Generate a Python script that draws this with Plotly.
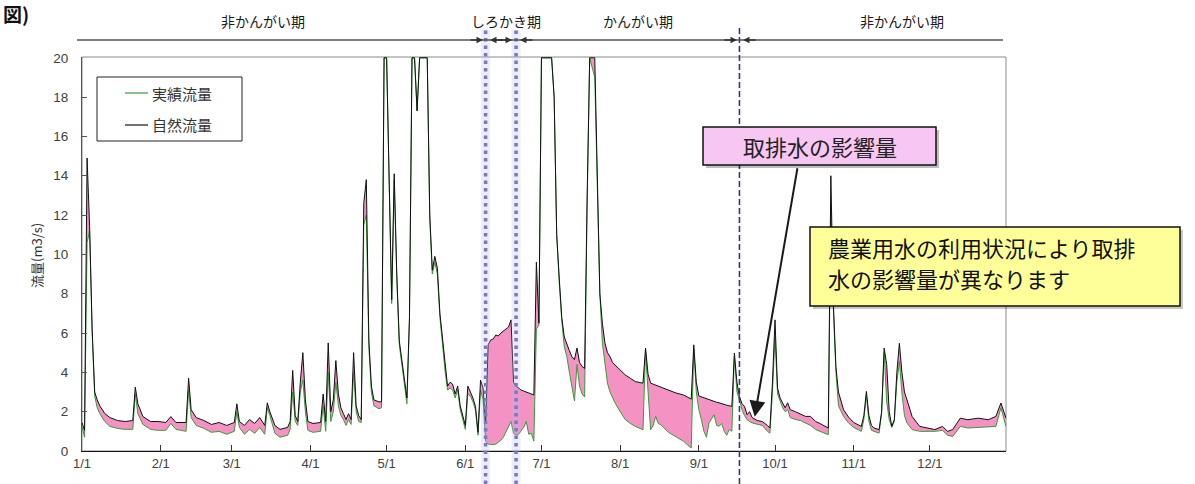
import plotly.graph_objects as go

YEAR = "2023"

# daily flow (MM-DD, m3/s). Values of 20 mean the line runs along the top of the axis.
DATES = [
    "01-01", "01-02", "01-03", "01-04", "01-05", "01-06", "01-07", "01-08", "01-10", "01-12",
    "01-15", "01-18", "01-21", "01-22", "01-23", "01-25", "01-28", "01-31",
    "02-03", "02-05", "02-07", "02-11", "02-12", "02-13", "02-15", "02-18", "02-21", "02-24", "02-27",
    "03-02", "03-03", "03-04", "03-06", "03-08", "03-10", "03-12", "03-14", "03-15", "03-16",
    "03-18", "03-20", "03-23", "03-24", "03-25", "03-26", "03-27", "03-28", "03-29", "03-30", "03-31",
    "04-02", "04-05", "04-06", "04-07", "04-08", "04-09", "04-10", "04-11", "04-12", "04-13",
    "04-14", "04-15", "04-16", "04-17", "04-18", "04-19", "04-20", "04-21", "04-22", "04-23",
    "04-24", "04-25", "04-26", "04-28", "04-29", "04-30",
    "05-01", "05-02", "05-03", "05-04", "05-05", "05-06", "05-07", "05-08", "05-09", "05-10",
    "05-11", "05-12", "05-13", "05-14", "05-17", "05-18", "05-19", "05-20", "05-21", "05-22",
    "05-23", "05-24", "05-25", "05-26", "05-27", "05-28", "05-29", "05-30", "05-31",
    "06-01", "06-02", "06-03", "06-04", "06-05", "06-06", "06-07", "06-08", "06-09", "06-10",
    "06-11", "06-12", "06-13", "06-14", "06-15", "06-16", "06-17", "06-18", "06-19", "06-20",
    "06-21", "06-22", "06-23", "06-24", "06-25", "06-26", "06-27", "06-28", "06-29", "06-30",
    "07-01", "07-05", "07-06", "07-07", "07-08", "07-09", "07-10", "07-11", "07-12", "07-13",
    "07-14", "07-15", "07-16", "07-17", "07-18", "07-19", "07-20", "07-22", "07-23", "07-24",
    "07-25", "07-26", "07-27", "07-28", "07-29", "07-30",
    "08-01", "08-03", "08-05", "08-07", "08-10", "08-11", "08-12", "08-13", "08-14", "08-15",
    "08-16", "08-17", "08-20", "08-23", "08-26", "08-29", "08-30", "08-31",
    "09-01", "09-02", "09-03", "09-04", "09-05", "09-07", "09-08", "09-09", "09-10", "09-11",
    "09-12", "09-13", "09-14", "09-15", "09-16", "09-17", "09-18", "09-19", "09-20", "09-21",
    "09-22", "09-24", "09-26", "09-28", "09-29", "09-30",
    "10-01", "10-02", "10-03", "10-04", "10-05", "10-06", "10-07", "10-09", "10-11", "10-13",
    "10-15", "10-17", "10-19", "10-22", "10-23", "10-24", "10-25", "10-26", "10-28", "10-30",
    "11-01", "11-04", "11-05", "11-06", "11-07", "11-08", "11-09", "11-11", "11-12", "11-13",
    "11-14", "11-15", "11-16", "11-17", "11-18", "11-19", "11-20", "11-21", "11-22", "11-24",
    "11-27", "11-30",
    "12-03", "12-06", "12-08", "12-10", "12-13", "12-16", "12-20", "12-24", "12-27", "12-29", "12-31",
]

NATURAL = [  # 自然流量
    1.45, 1.05, 14.9, 11.4, 6.2, 3.0, 2.6, 2.3, 1.9, 1.7,
    1.55, 1.5, 1.55, 3.25, 2.4, 1.75, 1.5, 1.5,
    1.45, 1.75, 1.45, 1.45, 3.7, 2.1, 1.7, 1.55, 1.35, 1.45, 1.3,
    1.45, 2.4, 1.5, 1.3, 1.6, 1.4, 1.7, 1.3, 2.45, 2.0,
    1.3, 1.1, 1.2, 1.5, 4.1, 1.8, 1.5, 3.5, 5.0, 2.6, 1.5,
    1.4, 1.45, 2.9, 1.5, 5.5, 2.0, 2.6, 4.6, 2.9, 2.2,
    1.9, 1.6, 1.9, 1.6, 5.0, 2.3, 1.8, 1.6, 12.6, 13.8,
    5.65, 3.3, 2.6, 2.5, 2.5, 20,
    20, 13.3, 7.7, 14.1, 9.0, 5.6, 4.6, 3.6, 2.7, 6.8,
    20, 20, 17.3, 20, 20, 12.0, 9.2, 9.9, 9.3, 7.0,
    5.65, 4.3, 3.3, 3.5, 3.4, 2.9, 3.3, 2.3, 1.8,
    1.3, 3.3, 3.0, 2.7, 2.27, 0.95, 3.6, 3.2, 1.4, 5.4,
    5.65, 5.7, 5.9, 5.85, 6.0, 6.1, 6.2, 6.3, 6.67, 3.5,
    3.3, 3.2, 3.1, 3.05, 3.0, 2.95, 2.9, 2.85, 9.6, 6.5,
    20, 20, 18.0, 11.0, 8.8, 6.8, 5.8, 5.4, 5.1, 4.8,
    4.65, 5.24, 4.5, 4.3, 4.2, 13.0, 20, 20, 14.0, 8.0,
    6.5, 5.5, 5.0, 4.8, 4.5, 4.38,
    4.1, 3.87, 3.7, 3.53, 3.45, 5.23, 3.9, 3.45, 3.4, 3.35,
    3.3, 3.25, 3.1, 2.95, 2.85, 2.64, 5.4, 3.5,
    2.8, 2.75, 2.7, 2.65, 2.6, 2.5, 2.48, 2.45, 2.4, 2.38,
    2.33, 2.3, 2.27, 4.98, 3.5, 2.77, 2.4, 2.27, 1.84, 2.0,
    1.7, 1.55, 1.5, 1.3, 1.17, 3.5,
    6.67, 3.2, 2.7, 2.44, 2.2, 2.45, 2.1, 2.0, 1.9, 1.76,
    1.76, 1.5, 1.38, 1.17, 14.0, 7.5, 4.3, 3.0, 2.1, 1.72,
    1.45, 1.25, 1.8, 3.03, 1.8, 1.3, 1.17, 1.09, 2.0, 5.23,
    4.4, 2.0, 1.25, 1.6, 4.0, 5.48, 4.0, 3.0, 2.6, 1.76,
    1.25, 1.17,
    1.09, 1.25, 1.0, 1.09, 1.67, 1.59, 1.67, 1.59, 1.76, 2.44, 1.67,
]

ACTUAL = [  # 実績流量
    1.25, 0.7, 10.6, 11.2, 6.0, 2.8, 2.2, 1.9, 1.5, 1.25,
    1.15, 1.1, 1.1, 2.9, 1.9, 1.35, 1.1, 1.05,
    1.05, 1.4, 1.1, 1.0, 3.1, 1.7, 1.3, 1.15, 0.95, 1.0, 0.85,
    1.0, 2.0, 1.2, 0.85, 1.1, 0.9, 1.2, 0.85, 2.2, 1.8,
    0.9, 0.7, 0.8, 1.1, 3.0, 1.5, 1.3, 3.0, 3.6, 2.0, 1.05,
    0.95, 1.0, 2.3, 1.0, 4.0, 1.5, 2.0, 3.5, 2.3, 1.8,
    1.6, 1.3, 1.6, 1.35, 4.0, 2.0, 1.5, 1.45, 11.5, 12.0,
    5.3, 3.0, 2.3, 2.15, 2.2, 20,
    20, 13.0, 7.5, 13.8, 8.8, 5.4, 4.4, 3.4, 2.4, 6.6,
    20, 20, 17.3, 20, 20, 11.8, 9.0, 9.6, 9.0, 6.8,
    5.4, 4.1, 3.1, 3.2, 3.1, 2.7, 3.1, 2.1, 1.6,
    1.1, 2.9, 2.8, 2.5, 2.1, 0.8, 3.1, 2.6, 0.5, 0.35,
    0.32, 0.32, 0.35, 0.45, 0.55, 0.7, 0.95, 1.2, 1.5, 0.9,
    0.8, 0.85, 1.0, 1.2, 1.5, 0.85, 0.9, 0.5, 6.2, 6.4,
    20, 20, 18.0, 11.0, 8.6, 6.6, 5.3, 4.8, 4.0, 3.2,
    2.55, 4.4, 3.3, 2.9, 2.75, 12.5, 20, 19.0, 14.0, 8.0,
    5.5, 4.3, 3.45, 3.0, 2.7, 2.44,
    2.0, 1.6, 1.4, 1.25, 1.08, 5.1, 3.0, 1.08, 1.3, 1.76,
    1.4, 1.34, 0.95, 0.74, 0.49, 0.15, 5.2, 3.0,
    2.1, 1.6, 1.0, 0.7, 1.43, 1.84, 1.3, 1.26, 1.4, 1.0,
    0.8, 1.1, 1.0, 4.8, 3.0, 2.6, 2.1, 1.8, 1.59, 1.5,
    1.43, 1.36, 1.3, 1.0, 0.91, 3.0,
    5.8, 2.9, 2.5, 2.2, 2.0, 2.1, 1.7, 1.6, 1.55, 1.42,
    1.3, 1.09, 1.0, 0.83, 12.5, 7.2, 4.0, 2.3, 1.76, 1.42,
    1.2, 1.0, 1.6, 2.8, 1.5, 1.05, 1.0, 0.91, 1.9, 5.0,
    2.5, 1.59, 1.2, 1.5, 3.5, 4.55, 2.95, 1.8, 1.42, 1.09,
    1.0, 1.0,
    1.0, 1.05, 0.8, 0.74, 1.25, 1.17, 1.2, 1.2, 1.25, 2.2, 1.25,
]

SERIES_NAMES = ["実績流量", "自然流量"]
MONTH_TICKS = ["01-01", "02-01", "03-01", "04-01", "05-01", "06-01",
               "07-01", "08-01", "09-01", "10-01", "11-01", "12-01"]
MONTH_LABELS = ["1/1", "2/1", "3/1", "4/1", "5/1", "6/1",
                "7/1", "8/1", "9/1", "10/1", "11/1", "12/1"]
Y_TICKS = [0, 2, 4, 6, 8, 10, 12, 14, 16, 18, 20]
PERIOD_BOUNDS = ["06-09", "06-21", "09-17"]
PERIOD_LABELS = ["非かんがい期", "しろかき期", "かんがい期", "非かんがい期"]
Y_TITLE = "流量(m3/s)"
CALLOUT_1 = "取排水の影響量"
CALLOUT_1_POINT = ("09-23", 1.74)
CALLOUT_2 = ["農業用水の利用状況により取排", "水の影響量が異なります"]

# ---------------------------------------------------------------- layout helpers
W, H = 1195, 484
L, R, T, B = 82, 189, 57, 33
PW, PH = W - L - R, H - T - B


def px(x):
    return (x - L) / PW


def py(y):
    return (H - B - y) / PH


def d(md):
    return f"{YEAR}-{md}"


JP = "Noto Sans CJK JP"
GREEN = "#3a9a3a"
PINK = "#f592c4"

x = [d(v) for v in DATES]

fig = go.Figure()
fig.add_trace(go.Scatter(x=x, y=ACTUAL, mode="lines", name=SERIES_NAMES[0],
                         line=dict(color=GREEN, width=1), showlegend=False))
fig.add_trace(go.Scatter(x=x, y=NATURAL, mode="lines", name=SERIES_NAMES[1],
                         line=dict(color="#111111", width=1),
                         fill="tonexty", fillcolor=PINK, showlegend=False))

shapes = []
# plot frame
shapes.append(dict(type="rect", xref="paper", yref="paper", x0=0, x1=1, y0=0, y1=1,
                   line=dict(color="#8a8a8a", width=1), layer="below"))
# period boundary lines
for i, b in enumerate(PERIOD_BOUNDS):
    if i < 2:
        shapes.append(dict(type="line", xref="x", yref="paper", x0=d(b), x1=d(b),
                           y0=py(484), y1=py(30),
                           line=dict(color="rgba(180,180,235,0.25)", width=9), layer="above"))
        shapes.append(dict(type="line", xref="x", yref="paper", x0=d(b), x1=d(b),
                           y0=py(484), y1=py(30),
                           line=dict(color="#7a7ab8", width=3.5, dash="3.5px,4px"), layer="above"))
    else:
        shapes.append(dict(type="line", xref="x", yref="paper", x0=d(b), x1=d(b),
                           y0=py(484), y1=py(27),
                           line=dict(color="#34348a", width=1.6, dash="6px,3px"), layer="above"))
# top period line
shapes.append(dict(type="line", xref="paper", yref="paper", x0=px(77), x1=px(1003),
                   y0=py(40), y1=py(40), line=dict(color="#555555", width=1.3)))
# legend box
shapes.append(dict(type="rect", xref="paper", yref="paper", x0=px(97), x1=px(242),
                   y0=py(141), y1=py(77), line=dict(color="#222222", width=1),
                   fillcolor="white", layer="above"))
shapes.append(dict(type="line", xref="paper", yref="paper", x0=px(125), x1=px(148),
                   y0=py(93), y1=py(93), line=dict(color=GREEN, width=1.2), layer="above"))
shapes.append(dict(type="line", xref="paper", yref="paper", x0=px(125), x1=px(148),
                   y0=py(125), y1=py(125), line=dict(color="#111111", width=1.2), layer="above"))
# callout boxes (shadow + box)
shapes.append(dict(type="rect", xref="paper", yref="paper", x0=px(706), x1=px(939),
                   y0=py(168), y1=py(130), line=dict(width=0),
                   fillcolor="rgba(0,0,0,0.25)", layer="above"))
shapes.append(dict(type="rect", xref="paper", yref="paper", x0=px(703), x1=px(936),
                   y0=py(165), y1=py(127), line=dict(color="#111111", width=1.5),
                   fillcolor="#f7c6f2", layer="above"))
shapes.append(dict(type="rect", xref="paper", yref="paper", x0=px(813), x1=px(1183),
                   y0=py(309), y1=py(230), line=dict(width=0),
                   fillcolor="rgba(0,0,0,0.22)", layer="above"))
shapes.append(dict(type="rect", xref="paper", yref="paper", x0=px(810), x1=px(1180),
                   y0=py(306), y1=py(227), line=dict(color="#111111", width=1.5),
                   fillcolor="#ffff99", layer="above"))

ann = []
# figure caption (cropped in the source)
ann.append(dict(xref="paper", yref="paper", x=px(1), y=py(14), xanchor="left",
                yanchor="middle", text="<b>図)</b>", showarrow=False,
                font=dict(family=JP, size=19, color="#111111")))
# period labels
for lab, cx in zip(PERIOD_LABELS, [263, 506, 638, 902]):
    ann.append(dict(xref="paper", yref="paper", x=px(cx), y=py(21), text=lab,
                    showarrow=False, xanchor="center", yanchor="middle",
                    font=dict(family=JP, size=14, color="#1a1a1a")))
# arrowheads on the period line
for tip, tail in [(483, -14), (490, 14), (512, -14), (520, 14), (737, -14), (743, 14)]:
    ann.append(dict(xref="paper", yref="paper", x=px(tip), y=py(40), ax=tail, ay=0,
                    text="", showarrow=True, arrowhead=2, arrowsize=1, arrowwidth=1.3,
                    arrowcolor="#333333"))
# legend texts
for name, yy in [(SERIES_NAMES[0], 93), (SERIES_NAMES[1], 125)]:
    ann.append(dict(xref="paper", yref="paper", x=px(150), y=py(yy), text=name,
                    showarrow=False, xanchor="left", yanchor="middle",
                    font=dict(family=JP, size=15, color="#333333")))
# y title
ann.append(dict(xref="paper", yref="paper", x=px(36), y=py(256), text=Y_TITLE,
                textangle=-90, showarrow=False, xanchor="center", yanchor="middle",
                font=dict(family=JP, size=13, color="#333333")))
# callout 1 text and arrow
ann.append(dict(xref="paper", yref="paper", x=px(819.5), y=py(146), text=CALLOUT_1,
                showarrow=False, xanchor="center", yanchor="middle",
                font=dict(family=JP, size=22, color="#222222")))
ann.append(dict(xref="x", yref="y", x=d(CALLOUT_1_POINT[0]), y=CALLOUT_1_POINT[1],
                text="", showarrow=True, ax=43, ay=-250, arrowhead=2, arrowsize=1.6,
                arrowwidth=2, arrowcolor="#1a1a1a"))
# callout 2 text (two lines)
for line, yy in zip(CALLOUT_2, [247, 278]):
    ann.append(dict(xref="paper", yref="paper", x=px(826), y=py(yy), text=line,
                    showarrow=False, xanchor="left", yanchor="middle", align="left",
                    font=dict(family=JP, size=22, color="#111111")))

fig.update_layout(
    width=W, height=H,
    margin=dict(l=L, r=R, t=T, b=B),
    paper_bgcolor="white", plot_bgcolor="white",
    font=dict(family=JP, size=13, color="#404040"),
    shapes=shapes, annotations=ann, showlegend=False,
)
fig.update_xaxes(type="date", range=[d("01-01"), d("12-31")],
                 tickvals=[d(m) for m in MONTH_TICKS], ticktext=MONTH_LABELS,
                 ticks="inside", ticklen=6, tickcolor="#333333",
                 showline=True, linecolor="#111111", linewidth=1.3,
                 showgrid=False, zeroline=False,
                 tickfont=dict(family="Liberation Sans", size=13, color="#404040"))
fig.update_yaxes(range=[0, 20.04], tickvals=Y_TICKS,
                 ticks="inside", ticklen=5, tickcolor="#555555",
                 showline=True, linecolor="#555555", linewidth=1,
                 showgrid=False, zeroline=False, ticklabelstandoff=10,
                 tickfont=dict(family="Liberation Sans", size=13.5, color="#404040"))

fig.write_html("out.html", config={"displayModeBar": False},
               post_script="document.body.style.margin='0';document.body.style.overflow='hidden';")
